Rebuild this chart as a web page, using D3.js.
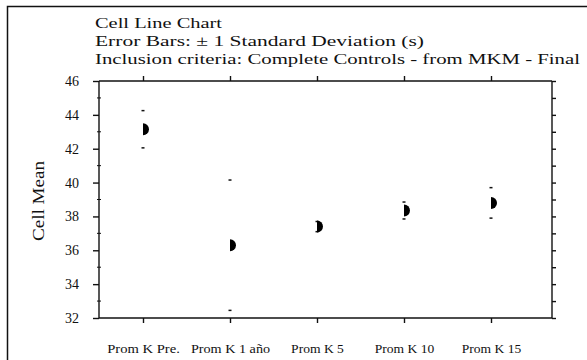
<!DOCTYPE html>
<html>
<head>
<meta charset="utf-8">
<script src="https://cdn.jsdelivr.net/npm/d3@7"></script>
<style>
  body { margin: 0; background: #fff; }
  svg { display: block; }
  text { font-family: "Liberation Serif", "Times New Roman", serif; fill: #111; }
</style>
</head>
<body>
<script>
// data
var categories = ["Prom K Pre.", "Prom K 1 año", "Prom K 5", "Prom K 10", "Prom K 15"];
var means = [43.15, 36.3, 37.4, 38.35, 38.8];
var sds = [1.1, 3.85, 0.3, 0.5, 0.9];
var yTicks = [32, 34, 36, 38, 40, 42, 44, 46];
var titleLines = [
  "Cell Line Chart",
  "Error Bars: \u00b1 1 Standard Deviation (s)",
  "Inclusion criteria: Complete Controls - from MKM - Final"
];
var titleWidths = [127, 329, 485];

function init () {
  var w = 587;
  var h = 360;
  var pl = 99, pr = 552, pt = 81, pb = 318;

  var svg = d3.select("body")
    .append("svg")
    .attr("width", w)
    .attr("height", h);

  // scan frame
  svg.append("path")
    .attr("d", "M7.5,360V6.5H587")
    .attr("fill", "none")
    .attr("stroke", "#111")
    .attr("stroke-width", 1.5);

  var x = d3.scalePoint()
    .domain(categories)
    .range([pl + 44, pr - 61]);

  var y = d3.scaleLinear()
    .domain([32, 46])
    .range([pb, pt]);

  var minor = d3.range(32, 47, 1);

  // left axis
  var gl = svg.append("g").attr("transform", "translate(" + pl + ",0)");
  gl.call(d3.axisLeft(y).tickValues(yTicks).tickSize(6).tickPadding(14).tickFormat(d3.format("d")));
  gl.selectAll("text").attr("font-size", 14).attr("font-family", "Liberation Serif");
  gl.selectAll("line, path").attr("stroke", "#111").attr("stroke-width", 1.4);
  gl.select(".domain").attr("d", "M0," + pt + "V" + pb);

  gl.selectAll(".minor")
    .data(minor.filter(function(d) { return d % 2 === 1; }))
    .enter()
    .append("line")
    .attr("class", "minor")
    .attr("x1", -2).attr("x2", 2)
    .attr("y1", function(d) { return y(d); })
    .attr("y2", function(d) { return y(d); })
    .attr("stroke", "#111");

  // right axis, no labels
  var gr = svg.append("g").attr("transform", "translate(" + pr + ",0)");
  gr.call(d3.axisRight(y).tickValues(minor).tickSize(4).tickFormat(""));
  gr.selectAll("line, path").attr("stroke", "#111").attr("stroke-width", 1.4);
  gr.select(".domain").attr("d", "M0," + pt + "V" + pb);

  // bottom axis
  var gb = svg.append("g").attr("transform", "translate(0," + pb + ")");
  gb.call(d3.axisBottom(x).tickSize(5).tickPadding(20));
  gb.selectAll("text")
    .attr("font-size", 13.5)
    .attr("font-family", "Liberation Serif")
    .attr("textLength", function(d) { return d.length * 6.6; })
    .attr("lengthAdjust", "spacingAndGlyphs");
  gb.selectAll("line, path").attr("stroke", "#111").attr("stroke-width", 1.4);
  gb.select(".domain").attr("d", "M" + pl + ",0H" + pr);

  // top axis, no labels
  var gt = svg.append("g").attr("transform", "translate(0," + pt + ")");
  gt.call(d3.axisTop(x).tickSize(5).tickFormat(""));
  gt.selectAll("line, path").attr("stroke", "#111").attr("stroke-width", 1.4);
  gt.select(".domain").attr("d", "M" + pl + ",0H" + pr);

  // titles
  svg.selectAll(".title")
    .data(titleLines)
    .enter()
    .append("text")
    .attr("class", "title")
    .attr("x", 95)
    .attr("y", function(d, i) { return 28 + i * 18; })
    .attr("font-size", 15.5)
    .attr("textLength", function(d, i) { return titleWidths[i]; })
    .attr("lengthAdjust", "spacingAndGlyphs")
    .text(function(d) { return d; });

  svg.append("text")
    .attr("transform", "translate(44,201) rotate(-90)")
    .attr("text-anchor", "middle")
    .attr("font-size", 16)
    .attr("textLength", 80)
    .attr("lengthAdjust", "spacingAndGlyphs")
    .text("Cell Mean");

  // error bar caps
  var bars = categories.map(function(c, i) {
    return { c: c, m: means[i], s: sds[i] };
  });

  var caps = [];
  bars.forEach(function(d) {
    caps.push({ c: d.c, v: d.m + d.s });
    caps.push({ c: d.c, v: d.m - d.s });
  });

  svg.selectAll(".cap")
    .data(caps)
    .enter()
    .append("line")
    .attr("class", "cap")
    .attr("x1", function(d) { return x(d.c) - 1.5; })
    .attr("x2", function(d) { return x(d.c) + 1.5; })
    .attr("y1", function(d) { return y(d.v); })
    .attr("y2", function(d) { return y(d.v); })
    .attr("stroke", "#111")
    .attr("stroke-width", 1.5);

  // markers (scan only kept the right half of each dot)
  var half = d3.arc()
    .innerRadius(0)
    .outerRadius(6)
    .startAngle(0)
    .endAngle(Math.PI);

  svg.selectAll(".pt")
    .data(bars)
    .enter()
    .append("path")
    .attr("class", "pt")
    .attr("transform", function(d) { return "translate(" + x(d.c) + "," + y(d.m) + ")"; })
    .attr("d", half)
    .attr("fill", "#000");
}

init();
</script>
</body>
</html>
